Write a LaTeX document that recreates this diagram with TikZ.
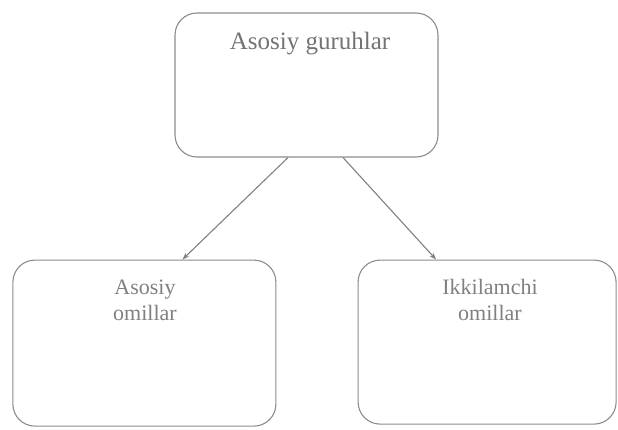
\documentclass[tikz,border=0pt]{standalone}
\usepackage{fontspec}
\setmainfont{Liberation Serif}
\usepackage{tikz}
\usetikzlibrary{positioning,arrows.meta}

\begin{document}
\begin{tikzpicture}[
        x=1pt, y=1pt,
        >={Stealth[length=7pt, width=5pt]},
        box/.style={rectangle, rounded corners=22pt, draw=black!45, line width=1.1pt, minimum width=263pt},
        title/.style={text=black!55, font=\fontsize{25}{28}\selectfont, anchor=base},
        label/.style={text=black!50, font=\fontsize{22}{26}\selectfont, align=center, anchor=base},
        arrow/.style={->, draw=black!50, line width=1.1pt}
    ]
    \useasboundingbox (0,0) rectangle (618,429);

    \node[box, minimum height=144pt] (top) at (306.5,344) {};
    \node[box, minimum height=166pt, below left=102pt and -102pt of top] (left) {};
    \node[box, minimum width=258pt, minimum height=164pt, below right=102pt and -81pt of top] (right) {};

    \node[title] (toptext) at (310,379) {Asosiy guruhlar};
    \node[label] (lefttext) at (145,109) {Asosiy\\omillar};
    \node[label] (righttext) at (490,109) {Ikkilamchi\\omillar};

    \draw[arrow] ([xshift=-18.5pt]top.south) -- ([xshift=38pt]left.north);
    \draw[arrow] ([xshift=36.5pt]top.south) -- ([xshift=-51pt]right.north);

\end{tikzpicture}
\end{document}
